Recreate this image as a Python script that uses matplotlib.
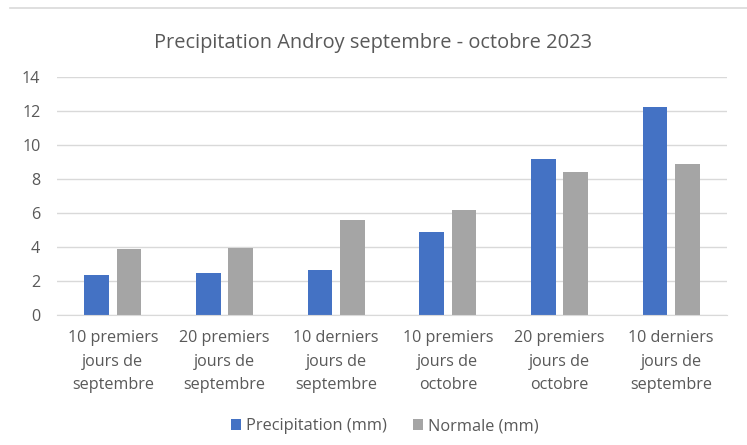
import matplotlib

matplotlib.use('Agg')
import matplotlib.pyplot as plt
from matplotlib.lines import Line2D
import numpy as np

categories = [
    '10 premiers\njours de\nseptembre',
    '20 premiers\njours de\nseptembre',
    '10 derniers\njours de\nseptembre',
    '10 premiers\njours de\noctobre',
    '20 premiers\njours de\noctobre',
    '10 derniers\njours de\nseptembre',
]
precipitation = [2.35, 2.5, 2.65, 4.9, 9.2, 12.25]
normale = [3.87, 3.97, 5.6, 6.2, 8.4, 8.9]
y_ticks = [0, 2, 4, 6, 8, 10, 12, 14]

plt.rcParams['font.family'] = ['Open Sans', 'DejaVu Sans']
text_color = '#595959'

fig = plt.figure(figsize=(7.47, 4.45), dpi=100)
ax = fig.add_axes([0.0763, 0.292, 0.897, 0.534])

x = np.arange(len(categories))
width = 0.22
offset = 0.145
ax.bar(x - offset, precipitation, width, color='#4472C4', label='Precipitation (mm)')
ax.bar(x + offset, normale, width, color='#A5A5A5', label='Normale (mm)')

ax.set_xlim(-0.5, len(categories) - 0.5)
ax.set_ylim(0, 14)
ax.set_yticks(y_ticks)
ax.set_xticks(x)
ax.set_xticklabels(categories, fontsize=11.6, color=text_color, linespacing=1.6)
ax.tick_params(axis='y', labelsize=11.6, colors=text_color, length=0, pad=12)
ax.tick_params(axis='x', length=0, pad=11)
ax.grid(axis='y', color='#D9D9D9', linewidth=1)
ax.set_axisbelow(True)
for side in ['top', 'right', 'left']:
    ax.spines[side].set_visible(False)
ax.spines['bottom'].set_color('#D9D9D9')

# thin frame line at the top of the chart area
fig.add_artist(Line2D([0.013, 1.0], [0.982, 0.982], transform=fig.transFigure,
                      color='#D9D9D9', linewidth=1.2))

fig.suptitle('Precipitation Androy septembre - octobre 2023', x=0.5, y=0.925,
             fontsize=14.4, color=text_color)
fig.legend(loc='center', bbox_to_anchor=(0.515, 0.042), ncol=2, frameon=False,
           fontsize=11.8, labelcolor=text_color, handlelength=0.6, handleheight=0.6,
           handletextpad=0.3, columnspacing=1.6)

fig.savefig('out.png', dpi=100)
plt.close(fig)
